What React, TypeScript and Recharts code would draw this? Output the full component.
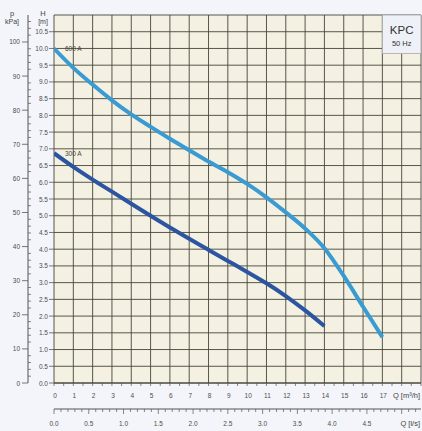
import React from "react";
import { LineChart, Line, XAxis, YAxis, CartesianGrid, ReferenceArea, LabelList } from "recharts";

// flow points, m³/h
const flowQ = [0, 1, 2, 3, 4, 5, 6, 7, 8, 9, 10, 11, 12, 13, 14, 15, 16, 17];
// head in m
const head600A = [10.0, 9.42, 8.92, 8.45, 8.03, 7.66, 7.3, 6.96, 6.62, 6.3, 5.95, 5.55, 5.1, 4.62, 4.03, 3.2, 2.28, 1.37];
const head300A = [6.87, 6.46, 6.08, 5.72, 5.36, 5.0, 4.65, 4.31, 3.98, 3.65, 3.32, 2.98, 2.6, 2.17, 1.7];

const Q_MAX = 19;
const H_MAX = 11;
const KPA_PER_M = 9.81;
const M3H_PER_LS = 3.6;
const P_MAX = H_MAX * KPA_PER_M;

const halfSteps = (n: number) => Array.from({ length: n * 2 + 1 }, (_, i) => i / 2);

const qTicks = halfSteps(Q_MAX);
const qLabels = [0, 1, 2, 3, 4, 5, 6, 7, 8, 9, 10, 11, 12, 13, 14, 15, 16, 17];
const hTicks = halfSteps(10.5);
const gridQ = Array.from({ length: Q_MAX + 1 }, (_, i) => i);
const gridH = halfSteps(H_MAX);
const pTicks = Array.from({ length: 54 }, (_, i) => i * 2);
const pLabels = [0, 10, 20, 30, 40, 50, 60, 70, 80, 90, 100];
// l/s ticks every 0.1, labels every 0.5
const lsTicks = Array.from({ length: 53 }, (_, i) => i / 10);
const lsLabels = [0, 0.5, 1.0, 1.5, 2.0, 2.5, 3.0, 3.5, 4.0, 4.5];

const data = flowQ.map((q, i) => ({
  q,
  h600: head600A[i],
  h300: i < head300A.length ? head300A[i] : null,
}));

const font = "'Liberation Sans', Arial, sans-serif";
const tickColor = "#4d4d4d";

function HTick({ x, y, payload }: any) {
  return (
    <g>
      <line x1={x - 5} x2={x} y1={y} y2={y} stroke="#555" strokeWidth={0.8} />
      <text x={x - 6} y={y} textAnchor="end" dominantBaseline="central" fontSize={6.5} fill={tickColor}>
        {Number(payload.value).toFixed(1)}
      </text>
    </g>
  );
}

function PTick({ x, y, payload }: any) {
  const v = payload.value;
  if (pLabels.includes(v)) {
    return (
      <g>
        <line x1={x - 6} x2={x} y1={y} y2={y} stroke="#555" strokeWidth={0.8} />
        <text x={x - 8} y={y} textAnchor="end" dominantBaseline="central" fontSize={6.5} fill={tickColor}>
          {v}
        </text>
      </g>
    );
  }
  return <line x1={x} x2={x + 3} y1={y} y2={y} stroke="#555" strokeWidth={0.7} />;
}

function QTick({ x, y, payload }: any) {
  const v = payload.value;
  return (
    <g>
      <line x1={x} x2={x} y1={y} y2={y + 3} stroke="#555" strokeWidth={0.7} />
      {qLabels.includes(v) && (
        <text x={x + 1} y={y + 12} textAnchor="middle" dominantBaseline="central" fontSize={6.5} fill={tickColor}>
          {v}
        </text>
      )}
    </g>
  );
}

// the l/s scale shares the m³/h axis range; tick values arrive in m³/h
function LsTick({ x, y, payload }: any) {
  const ls = payload.value / M3H_PER_LS;
  const tenths = Math.round(ls * 10);
  const major = tenths % 5 === 0;
  const labelled = lsLabels.some((l) => Math.round(l * 10) === tenths);
  return (
    <g>
      <line x1={x} x2={x} y1={y} y2={y + (major ? 5 : 3)} stroke="#555" strokeWidth={0.7} />
      {labelled && (
        <text x={x} y={y + 14} textAnchor="middle" dominantBaseline="central" fontSize={6.5} fill={tickColor}>
          {(tenths / 10).toFixed(1)}
        </text>
      )}
    </g>
  );
}

function CurveName(name: string) {
  return (props: any) => {
    if (props.index !== 0) return null;
    return (
      <text x={props.x + 11} y={props.y} dominantBaseline="central" fontSize={6.5} fill="#444">
        {name}
      </text>
    );
  };
}

function KpcLabel(props: any) {
  const vb = props.viewBox || {};
  const cx = vb.x + vb.width / 2;
  return (
    <g>
      <text x={cx} y={vb.y + 15} textAnchor="middle" dominantBaseline="central" fontSize={11.5} fill="#333">
        KPC
      </text>
      <text x={cx} y={vb.y + 28} textAnchor="middle" dominantBaseline="central" fontSize={7.5} fill="#333">
        50 Hz
      </text>
    </g>
  );
}

function HTitle(props: any) {
  const vb = props.viewBox || {};
  const cx = vb.x + vb.width / 2 + 2;
  return (
    <g fill="#444">
      <text x={cx} y={vb.y + 1} textAnchor="middle" fontSize={7.5}>H</text>
      <text x={cx} y={vb.y + 9} textAnchor="middle" fontSize={7}>[m]</text>
    </g>
  );
}

function PTitle(props: any) {
  const vb = props.viewBox || {};
  const cx = vb.x + 12;
  return (
    <g fill="#444">
      <text x={cx} y={vb.y + 1} textAnchor="middle" fontSize={7.5}>p</text>
      <text x={cx} y={vb.y + 9} textAnchor="middle" fontSize={7}>kPa]</text>
    </g>
  );
}

function QTitle(props: any) {
  const vb = props.viewBox || {};
  return (
    <text x={vb.x + vb.width - 1} y={vb.y + 12} textAnchor="end" dominantBaseline="central" fontSize={7.5} fill="#444">
      Q [m³/h]
    </text>
  );
}

function LsTitle(props: any) {
  const vb = props.viewBox || {};
  return (
    <text x={vb.x + vb.width - 1} y={vb.y + 14} textAnchor="end" dominantBaseline="central" fontSize={7.5} fill="#444">
      Q [l/s]
    </text>
  );
}

export default function App() {
  return (
    <div style={{ position: "absolute", left: 0, top: 0, width: 422, height: 431, background: "#f3f5fa" }}>
      <LineChart
        width={422}
        height={431}
        data={data}
        margin={{ top: 15, right: 1, bottom: 0, left: 0 }}
        style={{ fontFamily: font }}
      >
        <CartesianGrid
          fill="#f4f1e2"
          stroke="#45453a"
          strokeWidth={0.9}
          verticalValues={gridQ}
          horizontalValues={gridH}
        />

        <XAxis
          xAxisId={0}
          type="number"
          dataKey="q"
          domain={[0, Q_MAX]}
          allowDataOverflow
          ticks={qTicks}
          interval={0}
          height={26}
          tickSize={0}
          tickMargin={0}
          tickLine={false}
          axisLine={{ stroke: "#45453a" }}
          tick={(p: any) => <QTick {...p} />}
          label={(p: any) => <QTitle {...p} />}
        />
        <XAxis
          xAxisId="ls"
          type="number"
          dataKey="q"
          domain={[0, Q_MAX]}
          allowDataOverflow
          ticks={lsTicks.map((v) => v * M3H_PER_LS)}
          interval={0}
          height={22}
          tickSize={0}
          tickMargin={0}
          tickLine={false}
          axisLine={{ stroke: "#555" }}
          tick={(p: any) => <LsTick {...p} />}
          label={(p: any) => <LsTitle {...p} />}
        />

        <YAxis
          yAxisId={0}
          type="number"
          domain={[0, H_MAX]}
          allowDataOverflow
          ticks={hTicks}
          interval={0}
          width={26}
          tickSize={0}
          tickMargin={0}
          tickLine={false}
          axisLine={false}
          tick={(p: any) => <HTick {...p} />}
          label={(p: any) => <HTitle {...p} />}
        />
        <YAxis
          yAxisId="p"
          type="number"
          domain={[0, P_MAX]}
          allowDataOverflow
          ticks={pTicks}
          interval={0}
          width={28}
          tickSize={0}
          tickMargin={0}
          tickLine={false}
          axisLine={{ stroke: "#555" }}
          tick={(p: any) => <PTick {...p} />}
          label={(p: any) => <PTitle {...p} />}
        />

        <ReferenceArea
          x1={17}
          x2={19}
          y1={9.85}
          y2={11}
          fill="#eef1f7"
          fillOpacity={1}
          stroke="#a8a8a8"
          strokeWidth={0.8}
          label={(p: any) => <KpcLabel {...p} />}
        />

        <Line
          type="monotone"
          dataKey="h600"
          stroke="#3a9bd2"
          strokeWidth={4}
          dot={false}
          activeDot={false}
          isAnimationActive={false}
        >
          <LabelList dataKey="h600" content={CurveName("600 A")} />
        </Line>
        <Line
          type="monotone"
          dataKey="h300"
          stroke="#2c54a0"
          strokeWidth={4}
          dot={false}
          activeDot={false}
          isAnimationActive={false}
        >
          <LabelList dataKey="h300" content={CurveName("300 A")} />
        </Line>
      </LineChart>
    </div>
  );
}
